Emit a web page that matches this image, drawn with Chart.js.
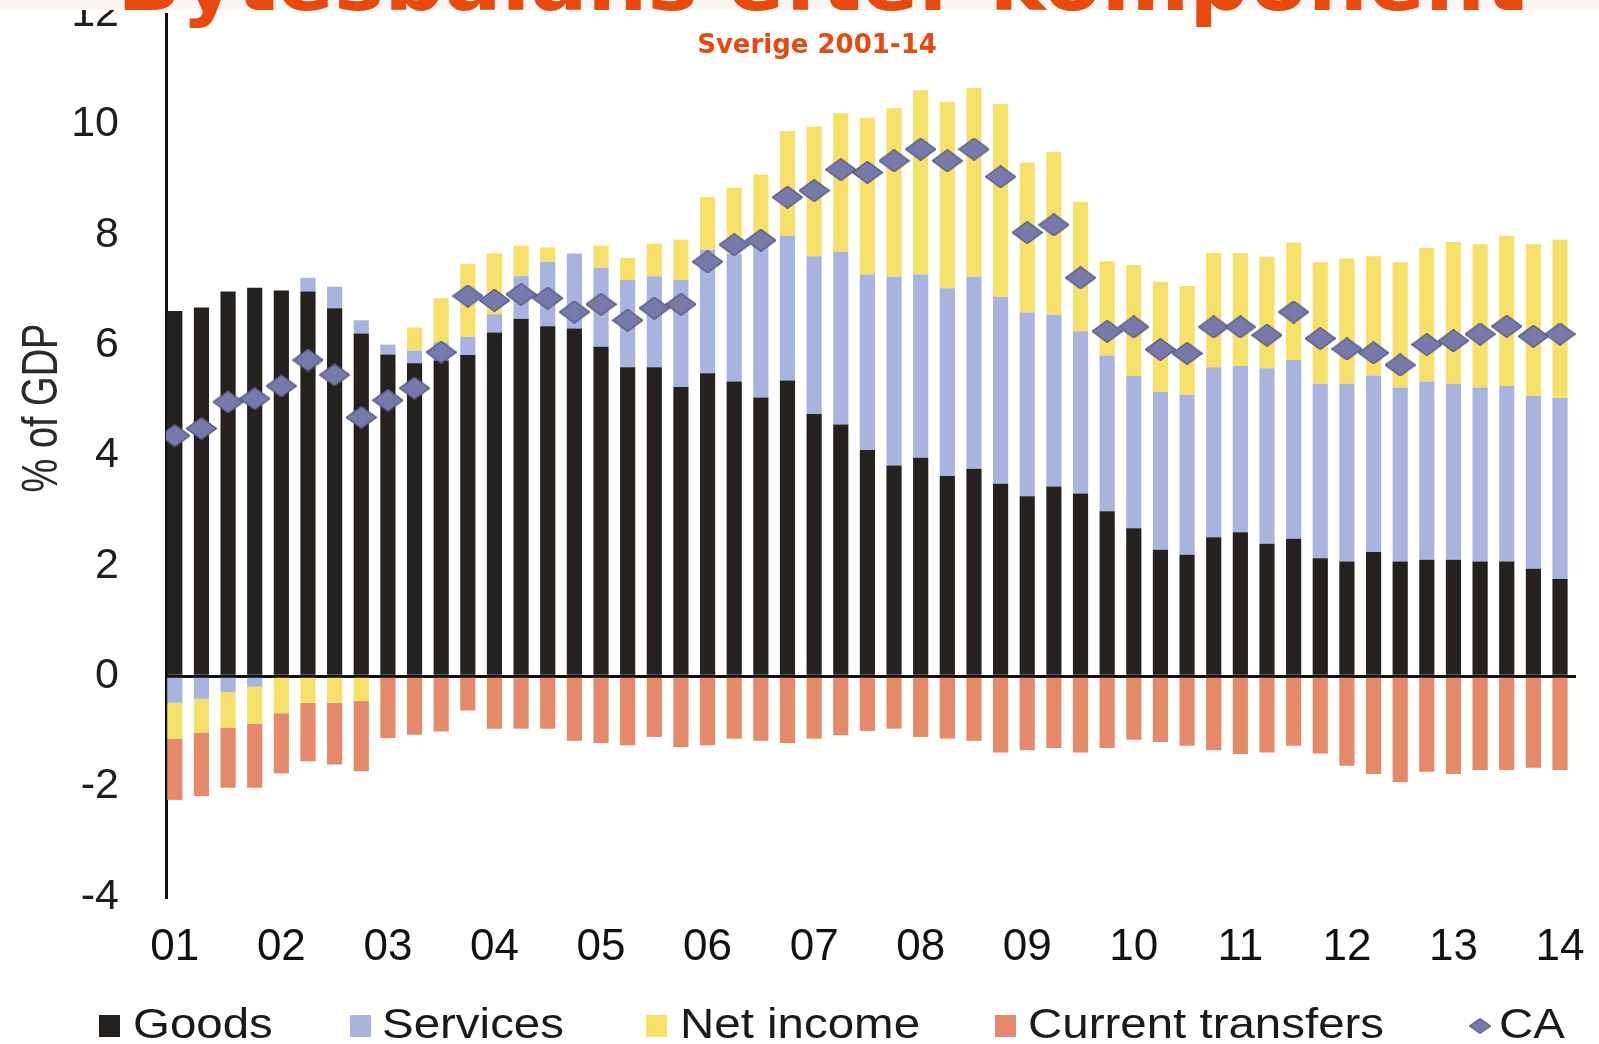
<!DOCTYPE html>
<html>
<head>
<meta charset="utf-8">
<title>Bytesbalans efter komponent</title>
<script src="https://cdn.jsdelivr.net/npm/chart.js@4.4.0/dist/chart.umd.min.js"></script>
<style>
  html, body { margin: 0; padding: 0; background: #fff; }
  canvas { display: block; }
</style>
</head>
<body>
<canvas id="cab" width="1599" height="1044"></canvas>
<script>
// quarters 2001Q1 .. 2014Q1
const quarters = [
  '2001Q1','2001Q2','2001Q3','2001Q4','2002Q1','2002Q2','2002Q3','2002Q4',
  '2003Q1','2003Q2','2003Q3','2003Q4','2004Q1','2004Q2','2004Q3','2004Q4',
  '2005Q1','2005Q2','2005Q3','2005Q4','2006Q1','2006Q2','2006Q3','2006Q4',
  '2007Q1','2007Q2','2007Q3','2007Q4','2008Q1','2008Q2','2008Q3','2008Q4',
  '2009Q1','2009Q2','2009Q3','2009Q4','2010Q1','2010Q2','2010Q3','2010Q4',
  '2011Q1','2011Q2','2011Q3','2011Q4','2012Q1','2012Q2','2012Q3','2012Q4',
  '2013Q1','2013Q2','2013Q3','2013Q4','2014Q1'
];
const yearTicks = ['01','02','03','04','05','06','07','08','09','10','11','12','13','14'];
const seriesNames = ['Goods', 'Services', 'Net income', 'Current transfers', 'CA'];

// % of GDP
const goods = [
  6.62, 6.68, 6.97, 7.04, 6.99, 6.97, 6.67, 6.21, 5.83, 5.67, 5.72, 5.82,
  6.23, 6.48, 6.34, 6.30, 5.97, 5.60, 5.60, 5.24, 5.49, 5.34, 5.05, 5.36,
  4.75, 4.56, 4.10, 3.82, 3.96, 3.63, 3.76, 3.49, 3.26, 3.44, 3.31, 2.99,
  2.68, 2.29, 2.20, 2.52, 2.61, 2.40, 2.49, 2.14, 2.08, 2.25, 2.08, 2.11,
  2.11, 2.08, 2.08, 1.95, 1.76
];
const services = [
  -0.48, -0.41, -0.29, -0.19, 0.00, 0.25, 0.39, 0.24, 0.18, 0.23, 0.33, 0.33,
  0.33, 0.77, 1.17, 1.36, 1.43, 1.58, 1.65, 1.94, 2.24, 2.31, 2.81, 2.62,
  2.86, 3.13, 3.18, 3.42, 3.32, 3.40, 3.48, 3.38, 3.33, 3.11, 2.94, 2.82,
  2.76, 2.86, 2.90, 3.08, 3.01, 3.18, 3.24, 3.16, 3.22, 3.20, 3.15, 3.23,
  3.19, 3.15, 3.18, 3.13, 3.28
];
const netIncome = [
  -0.65, -0.61, -0.64, -0.67, -0.67, -0.48, -0.48, -0.45, 0.00, 0.42, 0.80, 1.32,
  1.10, 0.55, 0.26, 0.00, 0.40, 0.40, 0.59, 0.73, 0.95, 1.20, 1.23, 1.90,
  2.35, 2.51, 2.84, 3.05, 3.34, 3.38, 3.42, 3.50, 2.72, 2.95, 2.35, 1.71,
  2.01, 2.00, 1.97, 2.07, 2.05, 2.02, 2.13, 2.20, 2.27, 2.16, 2.27, 2.42,
  2.57, 2.60, 2.72, 2.75, 2.87
];
const transfers = [
  -1.11, -1.15, -1.09, -1.16, -1.09, -1.06, -1.12, -1.27, -1.12, -1.06, -1.00, -0.62,
  -0.95, -0.95, -0.95, -1.17, -1.21, -1.25, -1.10, -1.28, -1.25, -1.13, -1.17, -1.21,
  -1.13, -1.07, -0.99, -0.95, -1.10, -1.13, -1.17, -1.38, -1.34, -1.30, -1.38, -1.30,
  -1.15, -1.19, -1.26, -1.34, -1.41, -1.38, -1.26, -1.40, -1.62, -1.77, -1.92, -1.73,
  -1.77, -1.70, -1.70, -1.66, -1.70
];
const currentAccount = [
  4.36, 4.49, 4.97, 5.03, 5.26, 5.73, 5.46, 4.69, 5.00, 5.22, 5.87, 6.89,
  6.81, 6.92, 6.85, 6.60, 6.74, 6.45, 6.67, 6.74, 7.51, 7.82, 7.90, 8.68,
  8.80, 9.18, 9.13, 9.34, 9.55, 9.34, 9.55, 9.05, 8.04, 8.18, 7.22, 6.25,
  6.33, 5.92, 5.85, 6.33, 6.33, 6.18, 6.60, 6.12, 5.93, 5.86, 5.64, 6.01,
  6.08, 6.20, 6.34, 6.16, 6.20
];

const colors = ['#25211f', '#a8b3df', '#f5e16a', '#e5896b', '#7779aa'];
const ORANGE = '#e8490f';
const AXIS_FONT = '"Liberation Sans", Arial, sans-serif';

const toXY = arr => arr.map((v, i) => ({ x: i, y: v }));
const yearIdx = quarters.map((q, i) => q.endsWith('Q1') ? i : -1).filter(i => i >= 0);

function makeDiamond(w, h, fill, stroke) {
  const c = document.createElement('canvas');
  c.width = w; c.height = h;
  const g = c.getContext('2d');
  g.beginPath();
  g.moveTo(w / 2, 0.5);
  g.lineTo(w - 0.5, h / 2);
  g.lineTo(w / 2, h - 0.5);
  g.lineTo(0.5, h / 2);
  g.closePath();
  g.fillStyle = fill;
  g.fill();
  g.strokeStyle = stroke;
  g.lineWidth = 1.2;
  g.stroke();
  return c;
}
const diamond = makeDiamond(31, 23, colors[4], '#55577f');

// title, axis title and legend
const decorations = {
  id: 'decorations',
  beforeDraw(chart) {
    const ctx = chart.ctx;
    ctx.save();
    ctx.fillStyle = '#fff';
    ctx.fillRect(0, 0, chart.width, chart.height);
    ctx.restore();
  },
  afterDraw(chart) {
    const ctx = chart.ctx;
    ctx.save();

    // cut-off slide title
    ctx.fillStyle = '#fbf6f3';
    ctx.fillRect(0, 0, chart.width, 10);
    const title = 'Bytesbalans efter komponent';
    ctx.font = 'bold 80px "DejaVu Sans", sans-serif';
    const w = ctx.measureText(title).width;
    const size = 80 * 1408 / w;
    ctx.font = 'bold ' + size.toFixed(1) + 'px "DejaVu Sans", sans-serif';
    ctx.fillStyle = ORANGE;
    ctx.textAlign = 'left';
    ctx.textBaseline = 'alphabetic';
    ctx.fillText(title, 117, 10);

    ctx.font = 'bold 26px "DejaVu Sans", sans-serif';
    ctx.textAlign = 'center';
    ctx.fillText('Sverige 2001-14', 817, 53);

    // y axis title
    ctx.save();
    ctx.translate(43, 408);
    ctx.rotate(-Math.PI / 2);
    ctx.scale(1, 1.3);
    ctx.font = '38px ' + AXIS_FONT;
    ctx.fillStyle = '#2a2a2a';
    ctx.textAlign = 'center';
    ctx.textBaseline = 'middle';
    ctx.fillText('% of GDP', 0, 0);
    ctx.restore();

    // legend
    const spots = [
      { box: 99, text: 133 },
      { box: 350, text: 382 },
      { box: 646, text: 680 },
      { box: 995, text: 1028 },
      { box: 1469, text: 1499 }
    ];
    const ly = 1026;
    ctx.font = '42px ' + AXIS_FONT;
    ctx.textAlign = 'left';
    ctx.textBaseline = 'middle';
    chart.data.datasets.forEach((ds, i) => {
      const s = spots[i];
      if (ds.type === 'line') {
        ctx.drawImage(diamond, s.box, ly - 8, 22, 16);
      } else {
        ctx.fillStyle = ds.backgroundColor;
        ctx.fillRect(s.box, ly - 11, 21, 22);
      }
      ctx.save();
      ctx.translate(s.text, ly);
      ctx.scale(1.13, 1);
      ctx.fillStyle = '#1a1a1a';
      ctx.fillText(ds.label, 0, 0);
      ctx.restore();
    });

    ctx.restore();
  }
};

const barDefaults = { categoryPercentage: 1, barPercentage: 0.57, borderWidth: 0 };

new Chart(document.getElementById('cab'), {
  type: 'bar',
  data: {
    datasets: [
      { label: seriesNames[0], data: toXY(goods), backgroundColor: colors[0], order: 1, ...barDefaults },
      { label: seriesNames[1], data: toXY(services), backgroundColor: colors[1], order: 1, ...barDefaults },
      { label: seriesNames[2], data: toXY(netIncome), backgroundColor: colors[2], order: 1, ...barDefaults },
      { label: seriesNames[3], data: toXY(transfers), backgroundColor: colors[3], order: 1, ...barDefaults },
      {
        label: seriesNames[4], type: 'line', data: toXY(currentAccount), stack: 'ca', order: 0,
        showLine: false, pointStyle: diamond, pointRadius: 13, pointHoverRadius: 13
      }
    ]
  },
  options: {
    responsive: false,
    animation: false,
    devicePixelRatio: 1,
    layout: { padding: { top: 5, right: 23, left: 0, bottom: 0 } },
    plugins: { legend: { display: false }, title: { display: false }, tooltip: { enabled: false } },
    scales: {
      x: {
        type: 'linear',
        offset: false,
        stacked: true,
        min: -0.33,
        max: 52.6,
        grid: { display: false, offset: false },
        border: { display: false },
        afterBuildTicks: axis => { axis.ticks = yearIdx.map(v => ({ value: v })); },
        afterFit: axis => { axis.height = 147; axis.paddingLeft = 0; axis.paddingRight = 0; },
        ticks: {
          autoSkip: false,
          maxRotation: 0,
          padding: 16,
          color: '#111',
          font: { family: AXIS_FONT, size: 44 },
          callback: (value) => yearTicks[yearIdx.indexOf(value)]
        }
      },
      y: {
        stacked: true,
        min: -4,
        max: 12,
        afterFit: axis => { axis.width = 166; axis.paddingTop = 0; axis.paddingBottom = 0; },
        grid: {
          drawTicks: false,
          color: c => c.tick && c.tick.value === 0 ? '#111' : 'rgba(0,0,0,0)',
          lineWidth: 3
        },
        border: { display: true, color: '#111', width: 3 },
        ticks: {
          stepSize: 2,
          padding: 47,
          color: '#1e1e1e',
          font: { family: AXIS_FONT, size: 43 }
        }
      }
    }
  },
  plugins: [decorations]
});
</script>
</body>
</html>
